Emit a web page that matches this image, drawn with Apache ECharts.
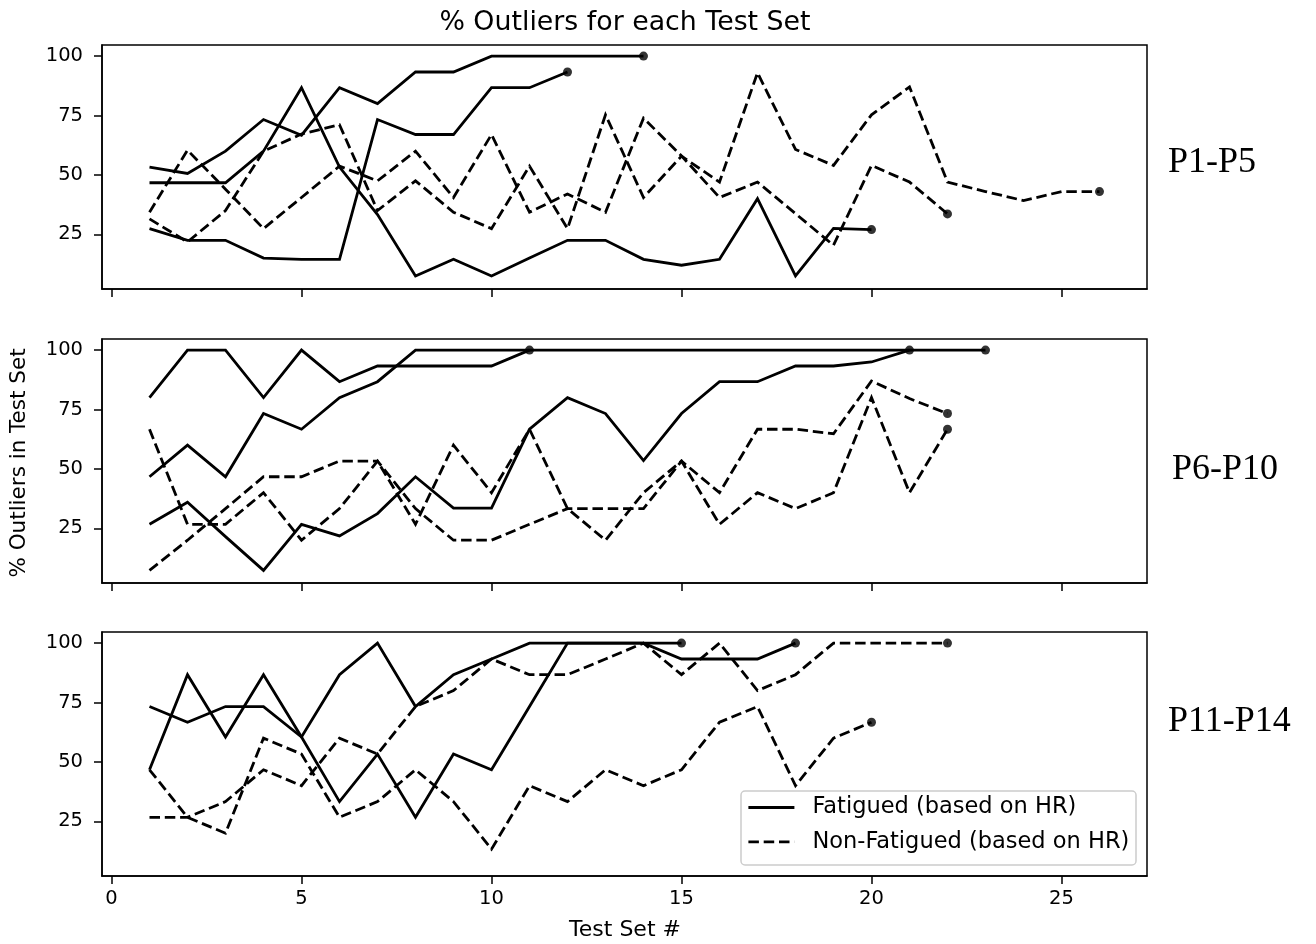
<!DOCTYPE html>
<html>
<head>
<meta charset="utf-8">
<script src="https://cdn.jsdelivr.net/npm/echarts@6/dist/echarts.min.js"></script>
<style>
  html, body { margin: 0; padding: 0; background: #fff; }
  #chart { width: 1316px; height: 944px; }
</style>
</head>
<body>
<div id="chart"></div>
<script>
// Test set numbers along the shared x axis
const testSet = [1, 2, 3, 4, 5, 6, 7, 8, 9, 10, 11, 12, 13, 14, 15, 16, 17, 18, 19, 20, 21, 22, 23, 24, 25, 26];
const xTickValues = [0, 5, 10, 15, 20, 25];
const yTickValues = [25, 50, 75, 100];

// Group P1-P5: % outliers per test set
const p1Fatigued1 = [53.3, 50.6, 60, 73.3, 66.7, 86.7, 80, 93.3, 93.3, 100, 100, 100, 100, 100];
const p1Fatigued2 = [46.7, 46.7, 46.7, 60, 86.7, 53.3, 33.3, 7.5, 14.5, 7.5, 15, 22.5, 22.5, 14.5, 12, 14.5, 40, 7.5, 27.5, 27];
const p1Fatigued3 = [27.4, 22.5, 22.5, 15, 14.5, 14.5, 73.3, 67, 67, 86.7, 86.7, 93.3];
const p1NonFatigued1 = [34.3, 60.4, 44, 27.4, 40.5, 53.7, 47.5, 60, 40.5, 67, 34.3, 42, 34.3, 73.9, 58, 40.5, 47, 33.7, 20.4, 54, 47, 33.6];
const p1NonFatigued2 = [31.5, 21.8, 35, 60, 67.2, 71.1, 35, 47.5, 34.3, 27.4, 53.7, 27.4, 75.3, 40.5, 57.9, 47, 93, 60.7, 54, 75.3, 87, 47, 43, 39.2, 43, 43];

// Group P6-P10
const p2Fatigued1 = [80, 100, 100, 80, 100, 86.7, 93.3, 93.3, 93.3, 93.3, 100];
const p2Fatigued2 = [46.7, 60, 46.7, 73.3, 66.7, 80, 86.7, 100, 100, 100, 100, 100, 100, 100, 100, 100, 100, 100, 100, 100, 100, 100, 100];
const p2Fatigued3 = [26.7, 36, 21.5, 7.3, 26.7, 21.8, 31.2, 46.7, 33.5, 33.5, 66.7, 80, 73.3, 53.5, 73.3, 86.7, 86.7, 93.3, 93.3, 95, 100];
const p2NonFatigued1 = [66.7, 26.7, 26.7, 40, 20, 33.3, 53.3, 26.7, 60, 40, 66.7, 33.3, 20, 40, 53.3, 26.7, 40, 33.3, 40, 80, 40, 66.7];
const p2NonFatigued2 = [7.3, 20, 33.3, 46.7, 46.7, 53.3, 53.3, 33.3, 20, 20, 26.7, 33.3, 33.3, 33.3, 53.3, 40, 66.7, 66.7, 64.8, 87, 79.6, 73.3];

// Group P11-P14
const p3Fatigued1 = [73.3, 66.7, 73.3, 73.3, 60.5, 86.7, 100, 73.3, 86.7, 93.3, 100, 100, 100, 100, 100];
const p3Fatigued2 = [46.7, 86.7, 60.5, 86.7, 60.5, 33.3, 53.3, 26.7, 53.3, 46.7, 73.3, 100, 100, 100, 93.3, 93.3, 93.3, 100];
const p3NonFatigued1 = [46.7, 26.7, 20, 60, 53.3, 26.7, 33.3, 46.7, 33.3, 13.3, 40, 33.3, 46.7, 40, 46.7, 66.7, 73.3, 40, 60, 66.7];
const p3NonFatigued2 = [26.7, 26.7, 33.3, 46.7, 40, 60, 53.3, 73.3, 80, 93.3, 86.7, 86.7, 93.3, 100, 86.7, 100, 80, 86.7, 100, 100, 100, 100];

const groupLabels = ['P1-P5', 'P6-P10', 'P11-P14'];
const FATIGUED = 'Fatigued (based on HR)';
const NON_FATIGUED = 'Non-Fatigued (based on HR)';

const panels = [
  { fatigued: [p1Fatigued1, p1Fatigued2, p1Fatigued3], nonFatigued: [p1NonFatigued1, p1NonFatigued2] },
  { fatigued: [p2Fatigued1, p2Fatigued2, p2Fatigued3], nonFatigued: [p2NonFatigued1, p2NonFatigued2] },
  { fatigued: [p3Fatigued1, p3Fatigued2], nonFatigued: [p3NonFatigued1, p3NonFatigued2] }
];

const FONT = '"DejaVu Sans", sans-serif';
const X_MIN = -0.25, X_MAX = 27.25;
const Y_MIN = 2, Y_MAX = 104.667;
const gridTops = [45, 339, 632];
const GRID_LEFT = 102, GRID_WIDTH = 1045, GRID_HEIGHT = 244;
const LINE_W = 2.8;
const DASH = [10.5, 4.8];

const grids = gridTops.map(top => ({
  left: GRID_LEFT, top: top, width: GRID_WIDTH, height: GRID_HEIGHT,
  show: true, borderColor: '#000', borderWidth: 1.5, backgroundColor: 'transparent'
}));

const xAxes = gridTops.map((_, i) => ({
  type: 'value', gridIndex: i, min: X_MIN, max: X_MAX,
  axisLine: { show: true, onZero: false, lineStyle: { color: '#000', width: 1.5 } },
  splitLine: { show: false },
  axisTick: { show: true, length: 8, lineStyle: { color: '#000', width: 1.5 }, customValues: xTickValues },
  axisLabel: { show: i === 2, customValues: xTickValues, margin: 13, fontSize: 19.5, color: '#000', fontFamily: FONT }
}));

const yAxes = gridTops.map((_, i) => ({
  type: 'value', gridIndex: i, min: Y_MIN, max: Y_MAX,
  axisLine: { show: true, onZero: false, lineStyle: { color: '#000', width: 1.5 } },
  splitLine: { show: false },
  axisTick: { show: true, length: 8, lineStyle: { color: '#000', width: 1.5 }, customValues: yTickValues },
  axisLabel: { show: true, customValues: yTickValues, margin: 19, fontSize: 19.5, color: '#000', fontFamily: FONT }
}));

const series = [];
function addLine(values, panelIndex, dashed) {
  const pts = values.map((v, i) => [testSet[i], v]);
  series.push({
    type: 'line', name: dashed ? NON_FATIGUED : FATIGUED,
    xAxisIndex: panelIndex, yAxisIndex: panelIndex,
    data: pts, symbol: 'none', showSymbol: false,
    lineStyle: { color: '#000', width: LINE_W, type: dashed ? DASH : 'solid', cap: 'butt', join: 'miter' },
    itemStyle: { color: '#000' },
    z: 2, silent: true
  });
  // closing dot on the final test set
  series.push({
    type: 'scatter', name: 'end',
    xAxisIndex: panelIndex, yAxisIndex: panelIndex,
    data: [pts[pts.length - 1]], symbol: 'circle', symbolSize: 9,
    itemStyle: { color: '#000' }, z: 3, silent: true
  });
}
panels.forEach((p, i) => {
  p.fatigued.forEach(v => addLine(v, i, false));
  p.nonFatigued.forEach(v => addLine(v, i, true));
});

const groupLabelPos = [[1168, 163], [1172, 470], [1168, 722]];

const graphics = [
  { type: 'text', x: 625, y: 23, z: 10,
    style: { text: '% Outliers for each Test Set', font: '26.8px "DejaVu Sans"', fill: '#000',
             align: 'center', verticalAlign: 'middle', textAlign: 'center', textVerticalAlign: 'middle' } },
  { type: 'text', x: 625, y: 930, z: 10,
    style: { text: 'Test Set #', font: '22px "DejaVu Sans"', fill: '#000',
             align: 'center', verticalAlign: 'middle', textAlign: 'center', textVerticalAlign: 'middle' } },
  { type: 'text', x: 19, y: 463, rotation: Math.PI / 2, z: 10,
    style: { text: '% Outliers in Test Set', font: '21.5px "DejaVu Sans"', fill: '#000',
             align: 'center', verticalAlign: 'middle', textAlign: 'center', textVerticalAlign: 'middle' } },
  // legend frame
  { type: 'rect', z: 3, shape: { x: 741, y: 791, width: 395, height: 74, r: 4 },
    style: { fill: 'rgba(255,255,255,0.8)', stroke: '#cccccc', lineWidth: 1.5 } }
];
groupLabels.forEach((t, i) => {
  graphics.push({ type: 'text', x: groupLabelPos[i][0], y: groupLabelPos[i][1], z: 10,
    style: { text: t, font: '36px "Liberation Serif", "Times New Roman", serif', fill: '#000',
             align: 'left', verticalAlign: 'middle', textAlign: 'left', textVerticalAlign: 'middle' } });
});

// legend entries show only the line sample, no marker
const hiddenMarker = { opacity: 0, color: 'rgba(0,0,0,0)', borderWidth: 0 };

const option = {
  animation: false,
  backgroundColor: '#fff',
  grid: grids,
  xAxis: xAxes,
  yAxis: yAxes,
  legend: {
    show: true, orient: 'vertical', left: 747, top: 796, padding: 0,
    itemWidth: 46, itemHeight: 22, itemGap: 11.4, selectedMode: false, z: 5,
    textStyle: { fontFamily: FONT, fontSize: 22.5, color: '#000', lineHeight: 22, padding: [0, 0, 0, 13] },
    data: [
      { name: FATIGUED, itemStyle: hiddenMarker, lineStyle: { type: 'solid', width: LINE_W, color: '#000' } },
      { name: NON_FATIGUED, itemStyle: hiddenMarker, lineStyle: { type: DASH, width: LINE_W, color: '#000' } }
    ]
  },
  graphic: graphics,
  series: series
};

const chart = echarts.init(document.getElementById('chart'), null, { renderer: 'canvas' });
chart.setOption(option);
</script>
</body>
</html>
